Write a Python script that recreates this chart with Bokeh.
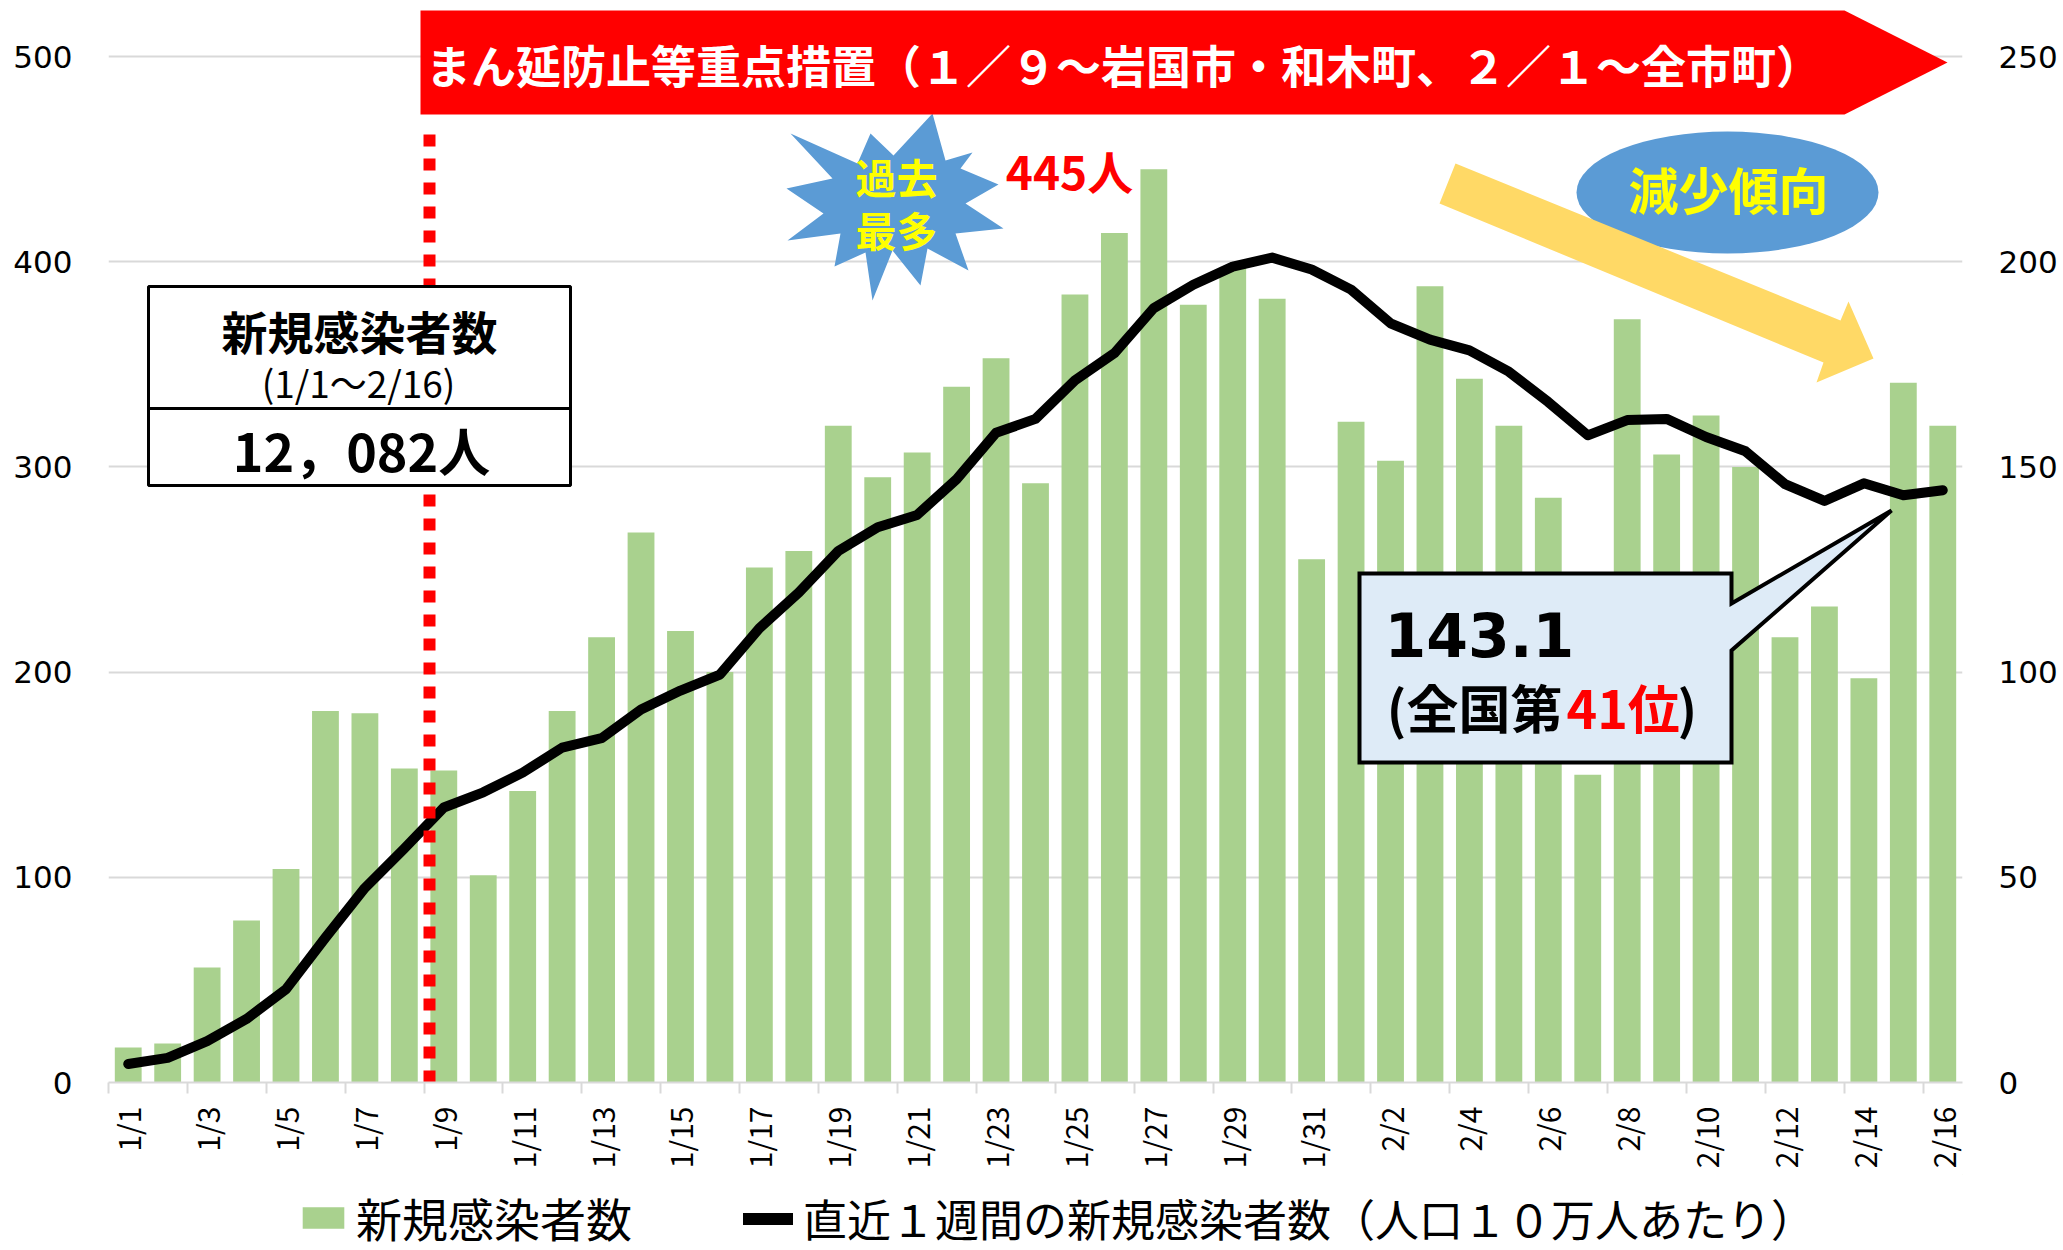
import math
from bokeh.plotting import figure
from bokeh.layouts import column
from bokeh.models import (Range1d, LinearAxis, FixedTicker, Legend, LegendItem,
                          Label, ColumnDataSource)
from bokeh.embed import file_html
from bokeh.resources import INLINE

# ---------------- data ----------------
dates = ["1/1", "1/2", "1/3", "1/4", "1/5", "1/6", "1/7", "1/8", "1/9", "1/10",
         "1/11", "1/12", "1/13", "1/14", "1/15", "1/16", "1/17", "1/18", "1/19", "1/20",
         "1/21", "1/22", "1/23", "1/24", "1/25", "1/26", "1/27", "1/28", "1/29", "1/30",
         "1/31", "2/1", "2/2", "2/3", "2/4", "2/5", "2/6", "2/7", "2/8", "2/9",
         "2/10", "2/11", "2/12", "2/13", "2/14", "2/15", "2/16"]

new_cases = [17, 19, 56, 79, 104, 181, 180, 153, 152, 101,
             142, 181, 217, 268, 220, 200, 251, 259, 320, 295,
             307, 339, 353, 292, 384, 414, 445, 379, 397, 382,
             255, 322, 303, 388, 343, 320, 285, 150, 372, 306,
             325, 300, 217, 232, 197, 341, 320]

weekly_per_100k = [4.5, 6.0, 10.1, 15.5, 22.7, 35.3, 47.4, 57.0, 67.0, 70.7,
                   75.5, 81.6, 83.9, 90.9, 95.5, 99.4, 110.7, 119.4, 129.5, 135.3,
                   138.3, 147.0, 158.3, 161.7, 171.1, 177.7, 188.7, 194.4, 198.8, 201.0,
                   198.1, 193.2, 185.0, 181.0, 178.4, 173.2, 165.8, 157.7, 161.4, 161.7,
                   157.3, 153.8, 145.8, 141.7, 146.0, 143.1, 144.3]

left_ticks = [0, 100, 200, 300, 400, 500]
right_ticks = [0, 50, 100, 150, 200, 250]

legend_labels = ["新規感染者数", "直近１週間の新規感染者数（人口１０万人あたり）"]

# ---------------- layout ----------------
W = 2063
H_MAIN, H_LEG = 1174, 76
LEFT, RIGHT, TOP = 108, 101, 0
FRAME_H = 1082
BOTTOM = H_MAIN - FRAME_H
FRAME_W = W - LEFT - RIGHT
PX_PER_UNIT = 1026 / 500.0            # left-axis pixels per case
Y_TOP = FRAME_H / PX_PER_UNIT
N = len(dates)
CAT_W = FRAME_W / N
FX0 = LEFT
FY1 = TOP + FRAME_H


def px2x(xp):
    return (xp - FX0) / CAT_W - 0.5


def px2y(yp):
    return (FY1 - yp) / PX_PER_UNIT


JP = "Noto Sans CJK JP"
BAR_COLOR = "#a9d18e"

p = figure(width=W, height=H_MAIN, x_range=Range1d(-0.5, N - 0.5), y_range=Range1d(0, Y_TOP),
           output_backend="svg", toolbar_location=None,
           min_border_left=LEFT, min_border_right=RIGHT,
           min_border_top=TOP, min_border_bottom=BOTTOM)
p.extra_y_ranges = {"rate": Range1d(0, Y_TOP / 2)}
p.outline_line_color = None
p.background_fill_color = "white"
p.border_fill_color = "white"

# grid
p.xgrid.visible = False
p.ygrid.ticker = FixedTicker(ticks=left_ticks[1:])
p.ygrid.grid_line_color = "#d9d9d9"
p.ygrid.grid_line_width = 2


def style_y(ax):
    ax.axis_line_color = None
    ax.major_tick_line_color = None
    ax.minor_tick_line_color = None
    ax.major_tick_in = 0
    ax.major_tick_out = 0
    ax.major_label_standoff = 36
    ax.major_label_text_font = "DejaVu Sans"
    ax.major_label_text_font_size = "31px"
    ax.major_label_text_color = "black"


ya = p.yaxis[0]
ya.ticker = FixedTicker(ticks=left_ticks)
style_y(ya)

ra = LinearAxis(y_range_name="rate", ticker=FixedTicker(ticks=right_ticks))
style_y(ra)
p.add_layout(ra, "right")

# x axis
xa = p.xaxis[0]
label_idx = list(range(0, N, 2))
xa.ticker = FixedTicker(ticks=label_idx, minor_ticks=[i - 0.5 for i in label_idx])
xa.major_label_overrides = {i: dates[i] for i in label_idx}
xa.major_label_orientation = math.pi / 2
xa.major_tick_line_color = None
xa.major_tick_in = 0
xa.major_tick_out = 0
xa.minor_tick_line_color = "#d9d9d9"
xa.minor_tick_line_width = 2
xa.minor_tick_in = 0
xa.minor_tick_out = 11
xa.axis_line_color = "#d9d9d9"
xa.axis_line_width = 2
xa.major_label_standoff = 13
xa.major_label_text_font = JP
xa.major_label_text_font_size = "30px"
xa.major_label_text_color = "black"

src = ColumnDataSource(dict(x=list(range(N)), cases=new_cases, rate=weekly_per_100k))

bars = p.vbar(x="x", top="cases", width=0.68, source=src,
              fill_color=BAR_COLOR, line_color=None)
p.line(x="x", y="rate", source=src, y_range_name="rate",
       line_color="black", line_width=10, line_join="round", line_cap="round")

# red dotted line (1/9 start)
p.segment(x0=[px2x(429)], y0=[0], x1=[px2x(429)], y1=[px2y(126)],
          line_color="#ff0000", line_width=12, line_dash="12 12")

# total box
p.quad(left=[px2x(148)], right=[px2x(570)], top=[px2y(286)], bottom=[px2y(485)],
       fill_color="white", line_color="black", line_width=3)
p.segment(x0=[px2x(148)], y0=[px2y(408)], x1=[px2x(570)], y1=[px2y(408)],
          line_color="black", line_width=3)

# starburst
star_px = [(932, 113), (945, 160), (972, 152), (960, 168), (998, 184), (965, 203),
           (1003, 228), (955, 233), (968, 270), (927, 248), (920, 285), (892, 250),
           (872, 300), (865, 252), (834, 266), (840, 233), (787, 240), (823, 213),
           (786, 188), (832, 178), (790, 133), (857, 163), (870, 133), (893, 155)]
p.patch(x=[px2x(a) for a, b in star_px], y=[px2y(b) for a, b in star_px],
        fill_color="#5b9bd5", line_color=None)

# banner
ban_px = [(420, 10), (1844, 10), (1947, 62), (1844, 114), (420, 114)]
p.patch(x=[px2x(a) for a, b in ban_px], y=[px2y(b) for a, b in ban_px],
        fill_color="#ff0000", line_color=None)

# ellipse
p.ellipse(x=[px2x(1727)], y=[px2y(192)], width=302 / CAT_W, height=122 / PX_PER_UNIT,
          fill_color="#5b9bd5", line_color=None)

# yellow arrow
arr_px = [(1455, 163), (1840, 320), (1848, 301), (1873, 358), (1816, 382),
          (1823, 362), (1439, 203)]
p.patch(x=[px2x(a) for a, b in arr_px], y=[px2y(b) for a, b in arr_px],
        fill_color="#ffd966", line_color=None)

# callout
call_px = [(1359, 573), (1731, 573), (1731, 603), (1891, 510), (1731, 650),
           (1731, 762), (1359, 762)]
p.patch(x=[px2x(a) for a, b in call_px], y=[px2y(b) for a, b in call_px],
        fill_color="#deebf7", line_color="black", line_width=4, line_join="miter")


def lab(xp, yp, text, size, color="black", bold=True, align="center", font=JP):
    p.add_layout(Label(x=px2x(xp), y=px2y(yp), text=text, text_font=font,
                       text_font_size=f"{size}px", text_color=color,
                       text_font_style="bold" if bold else "normal",
                       text_align=align, text_baseline="middle"))


lab(1123, 64, "まん延防止等重点措置（１／９～岩国市・和木町、２／１～全市町）", 45, "white")
lab(896, 175, "過去", 41, "#ffff00")
lab(896, 228, "最多", 41, "#ffff00")
lab(1069, 169, "445人", 46, "#ff0000")
lab(1728, 187, "減少傾向", 50, "#ffff00")
lab(359, 329, "新規感染者数", 46)
lab(358, 381, "(1/1～2/16)", 37, bold=False)
lab(361, 449, "12，082人", 52)
lab(1384, 634, "143.1", 60, align="left", font="DejaVu Sans")
lab(1562, 706, "(全国第", 52, align="right")
lab(1566, 706, "41位", 52, "#ff0000", align="left")
lab(1677, 706, ")", 52, align="left")

# ---------------- legend strip ----------------
# (the column aligns this strip's frame with the main frame, so x offsets are from FX0)
pl = figure(width=W, height=H_LEG, x_range=Range1d(0, 1), y_range=Range1d(0, 1),
            output_backend="svg", toolbar_location=None,
            x_axis_type=None, y_axis_type=None,
            min_border_left=0, min_border_right=0, min_border_top=0, min_border_bottom=0)
pl.outline_line_color = None
pl.xgrid.visible = False
pl.ygrid.visible = False
pl.background_fill_color = "white"
pl.border_fill_color = "white"
# legend proxies (one point each, placed outside the visible range)
lg_bar = pl.vbar(x=[5], top=[5], bottom=[4], width=0.5, fill_color=BAR_COLOR, line_color=None)
lg_line = pl.line(x=[5, 6], y=[5, 5], line_color="black", line_width=12, line_cap="round")

common = dict(orientation="horizontal", padding=0, margin=0, spacing=0,
              glyph_height=27, label_text_font=JP, label_text_color="black",
              border_line_color=None, background_fill_alpha=0)
leg1 = Legend(items=[LegendItem(label=legend_labels[0], renderers=[lg_bar])],
              location=(297 - FX0, 0), glyph_width=52, label_standoff=7,
              label_text_font_size="46px", **common)
leg2 = Legend(items=[LegendItem(label=legend_labels[1], renderers=[lg_line])],
              location=(743 - FX0, 0), glyph_width=50, label_standoff=10,
              label_text_font_size="44px", **common)
pl.add_layout(leg1)
pl.add_layout(leg2)

layout = column(p, pl, spacing=0)

with open("out.html", "w", encoding="utf-8") as f:
    f.write(file_html(layout, INLINE, title="新規感染者数"))
